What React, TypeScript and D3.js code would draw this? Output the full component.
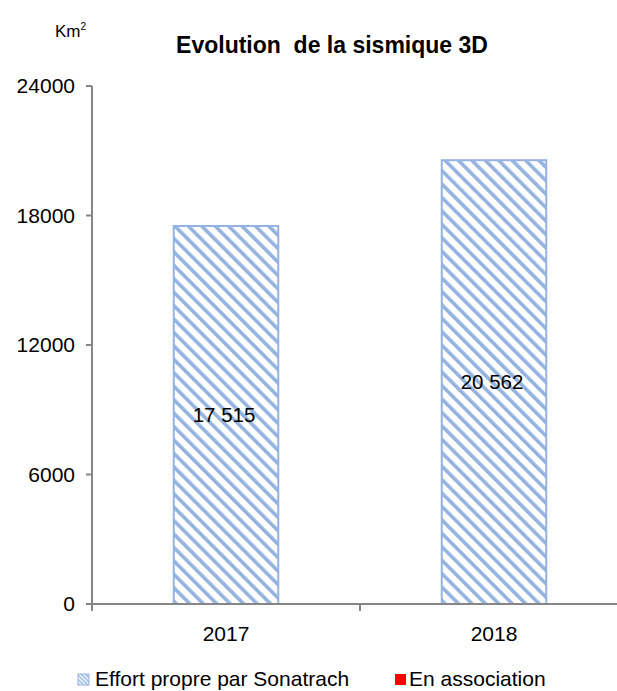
import React, { useEffect, useRef } from "react";
import * as d3 from "d3";

const categories = ["2017", "2018"];
const sonatrach = [17515, 20562];
const valueLabels = ["17 515", "20 562"];
const yTicks = [0, 6000, 12000, 18000, 24000];
const legendItems = ["Effort propre par Sonatrach", "En association"];

const W = 617;
const H = 691;

export default function App() {
  const ref = useRef<SVGSVGElement>(null);

  useEffect(() => {
    document.body.style.margin = "0";
    const svg = d3.select(ref.current);
    svg.selectAll("*").remove();
    const font = "'Liberation Sans', Arial, sans-serif";
    const blue = "#95b3e0";
    const axisColor = "#868686";

    const defs = svg.append("defs");
    const pat = defs
      .append("pattern")
      .attr("id", "hatch")
      .attr("patternUnits", "userSpaceOnUse")
      .attr("width", 9.5)
      .attr("height", 9.5)
      .attr("patternTransform", "rotate(-45)");
    pat.append("rect").attr("width", 9.5).attr("height", 9.5).attr("fill", "#fff");
    pat.append("rect").attr("width", 3.6).attr("height", 9.5).attr("fill", blue);

    const patS = defs
      .append("pattern")
      .attr("id", "hatchS")
      .attr("patternUnits", "userSpaceOnUse")
      .attr("width", 3)
      .attr("height", 3)
      .attr("patternTransform", "rotate(-45)");
    patS.append("rect").attr("width", 3).attr("height", 3).attr("fill", "#fff");
    patS.append("rect").attr("width", 1.5).attr("height", 3).attr("fill", blue);

    const x = d3
      .scaleBand<string>()
      .domain(categories)
      .range([92, 628])
      .paddingInner(0.61)
      .paddingOuter(0.305);
    const y = d3.scaleLinear().domain([0, 24000]).range([604, 86]);

    // Bars
    svg
      .append("g")
      .selectAll("rect")
      .data(sonatrach)
      .join("rect")
      .attr("x", (_, i) => x(categories[i])!)
      .attr("y", (d) => y(d))
      .attr("width", x.bandwidth())
      .attr("height", (d) => y(0) - y(d))
      .attr("fill", "url(#hatch)")
      .attr("stroke", blue)
      .attr("stroke-width", 2);

    // value labels
    svg
      .append("g")
      .selectAll("text")
      .data(sonatrach)
      .join("text")
      .attr("x", (_, i) => x(categories[i])! + x.bandwidth() / 2 - 2)
      .attr("y", (d) => (y(d) + y(0)) / 2)
      .attr("dy", "0.35em")
      .attr("text-anchor", "middle")
      .attr("font-family", font)
      .attr("font-size", 20.5)
      .attr("fill", "#000")
      .text((_, i) => valueLabels[i]);

    // Y axis
    const gy = svg.append("g");
    gy.append("line")
      .attr("x1", 92)
      .attr("x2", 92)
      .attr("y1", y(24000))
      .attr("y2", y(0))
      .attr("stroke", axisColor)
      .attr("stroke-width", 2);
    gy.selectAll("line.t")
      .data(yTicks)
      .join("line")
      .attr("class", "t")
      .attr("x1", 86)
      .attr("x2", 92)
      .attr("y1", (d) => y(d))
      .attr("y2", (d) => y(d))
      .attr("stroke", axisColor)
      .attr("stroke-width", 2);
    gy.selectAll("text")
      .data(yTicks)
      .join("text")
      .attr("x", 75)
      .attr("y", (d) => y(d))
      .attr("dy", "0.35em")
      .attr("text-anchor", "end")
      .attr("font-family", font)
      .attr("font-size", 21)
      .text((d) => String(d));

    // X axis
    const gx = svg.append("g");
    gx.append("line")
      .attr("x1", 86)
      .attr("x2", 628)
      .attr("y1", y(0))
      .attr("y2", y(0))
      .attr("stroke", axisColor)
      .attr("stroke-width", 2);
    const bounds = [x.range()[0], x.range()[0] + x.step(), x.range()[1]];
    gx.selectAll("line.t")
      .data(bounds)
      .join("line")
      .attr("class", "t")
      .attr("x1", (d) => d)
      .attr("x2", (d) => d)
      .attr("y1", y(0))
      .attr("y2", y(0) + 7)
      .attr("stroke", axisColor)
      .attr("stroke-width", 2);
    gx.selectAll("text")
      .data(categories)
      .join("text")
      .attr("x", (d) => x(d)! + x.bandwidth() / 2)
      .attr("y", 641)
      .attr("text-anchor", "middle")
      .attr("font-family", font)
      .attr("font-size", 21)
      .text((d) => d);

    // Title
    svg
      .append("text")
      .attr("x", 332)
      .attr("y", 53)
      .attr("text-anchor", "middle")
      .attr("font-family", font)
      .attr("font-size", 23)
      .attr("font-weight", "bold")
      .attr("xml:space", "preserve")
      .style("white-space", "pre")
      .text("Evolution  de la sismique 3D");

    // Unit
    const unit = svg
      .append("text")
      .attr("x", 55)
      .attr("y", 37)
      .attr("font-family", font)
      .attr("font-size", 17);
    unit.append("tspan").text("Km");
    unit.append("tspan").attr("font-size", 10).attr("dy", -7).text("2");

    // Legend
    const lg = svg.append("g");
    lg.append("rect")
      .attr("x", 78)
      .attr("y", 674)
      .attr("width", 11)
      .attr("height", 11)
      .attr("fill", "url(#hatchS)")
      .attr("stroke", blue)
      .attr("stroke-width", 1);
    lg.append("text")
      .attr("x", 95)
      .attr("y", 686)
      .attr("font-family", font)
      .attr("font-size", 21)
      .text(legendItems[0]);
    lg.append("rect")
      .attr("x", 395)
      .attr("y", 674)
      .attr("width", 11)
      .attr("height", 11)
      .attr("fill", "#ff0000");
    lg.append("text")
      .attr("x", 409)
      .attr("y", 686)
      .attr("font-family", font)
      .attr("font-size", 21)
      .text(legendItems[1]);
  }, []);

  return <svg ref={ref} width={W} height={H} style={{ display: "block" }} />;
}
